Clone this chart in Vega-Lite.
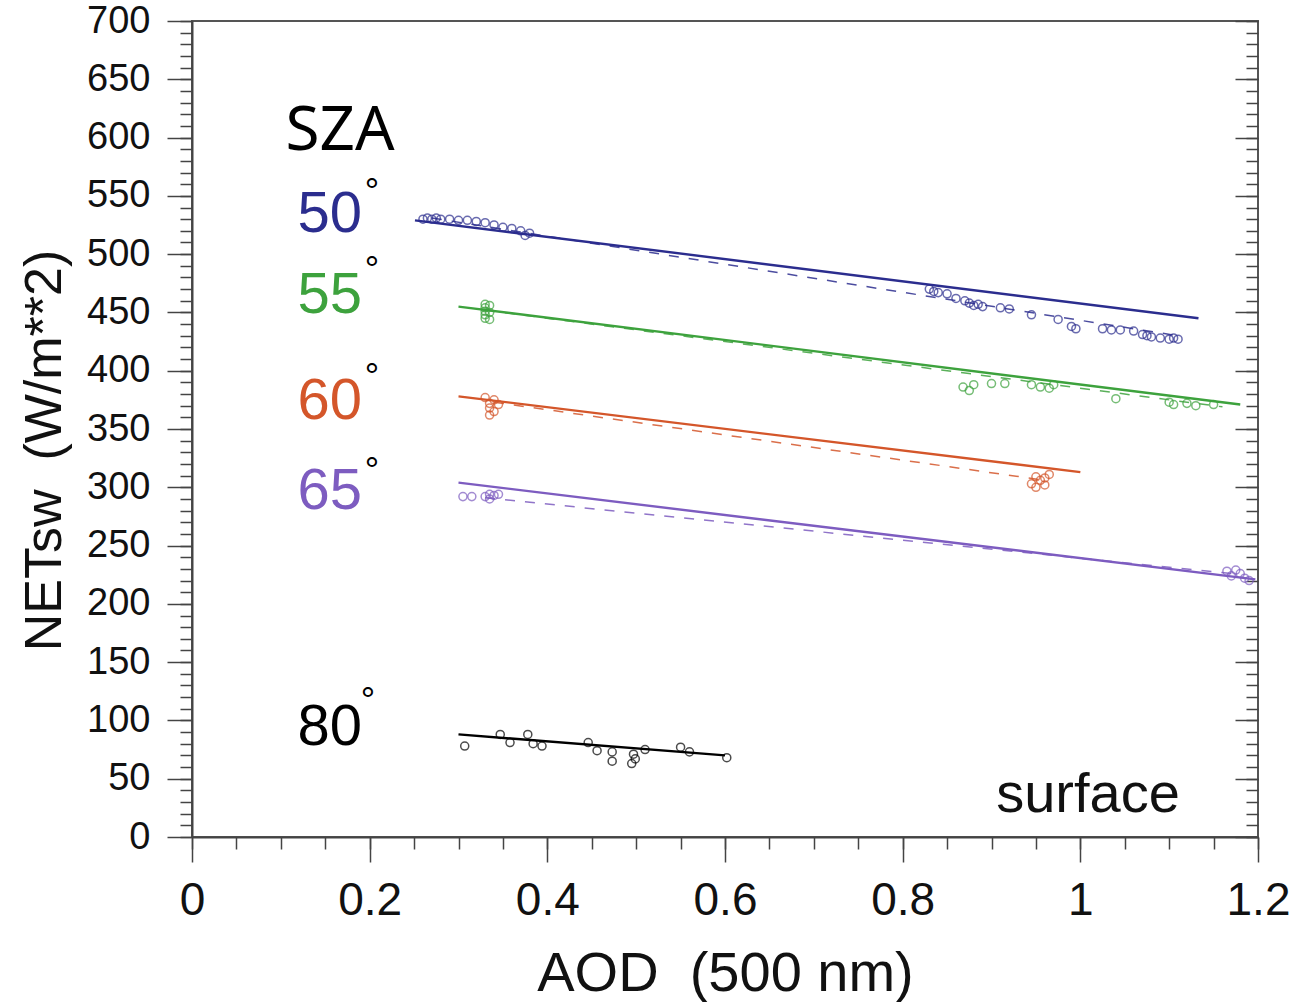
{
  "$schema": "https://vega.github.io/schema/vega-lite/v6.json",
  "width": 1066,
  "height": 816,
  "autosize": {"type": "none"},
  "padding": {"left": 192, "top": 21, "right": 37, "bottom": 165},
  "background": "white",
  "config": {
    "view": {"stroke": "#555555", "strokeWidth": 2},
    "axis": {
      "domainColor": "#444444",
      "domainWidth": 2,
      "tickColor": "#444444",
      "tickWidth": 1.5,
      "labelColor": "#111111",
      "labelFont": "Liberation Sans",
      "titleFont": "Liberation Sans",
      "titleColor": "#111111",
      "titleFontWeight": "normal",
      "grid": false
    }
  },
  "datasets": {
    "fit": [
      {"sza": "50", "x": 0.251, "y": 529}, {"sza": "50", "x": 1.133, "y": 445},
      {"sza": "55", "x": 0.30, "y": 455}, {"sza": "55", "x": 1.18, "y": 371},
      {"sza": "60", "x": 0.30, "y": 378}, {"sza": "60", "x": 1.00, "y": 313},
      {"sza": "65", "x": 0.30, "y": 304}, {"sza": "65", "x": 1.197, "y": 221},
      {"sza": "80", "x": 0.30, "y": 88}, {"sza": "80", "x": 0.60, "y": 70}
    ],
    "dash": [
      {"sza": "50", "x": 0.27, "y": 531}, {"sza": "50", "x": 1.11, "y": 430},
      {"sza": "55", "x": 0.33, "y": 452}, {"sza": "55", "x": 1.16, "y": 369},
      {"sza": "60", "x": 0.34, "y": 373}, {"sza": "60", "x": 0.96, "y": 306},
      {"sza": "65", "x": 0.33, "y": 291}, {"sza": "65", "x": 1.17, "y": 226}
    ],
    "pts": [
      {"sza": "50", "x": 0.26, "y": 530}, {"sza": "50", "x": 0.265, "y": 531}, {"sza": "50", "x": 0.27, "y": 530}, {"sza": "50", "x": 0.275, "y": 531},
      {"sza": "50", "x": 0.28, "y": 530}, {"sza": "50", "x": 0.29, "y": 530}, {"sza": "50", "x": 0.30, "y": 529}, {"sza": "50", "x": 0.31, "y": 529},
      {"sza": "50", "x": 0.32, "y": 528}, {"sza": "50", "x": 0.33, "y": 527}, {"sza": "50", "x": 0.34, "y": 525}, {"sza": "50", "x": 0.35, "y": 523},
      {"sza": "50", "x": 0.36, "y": 522}, {"sza": "50", "x": 0.37, "y": 520}, {"sza": "50", "x": 0.38, "y": 518}, {"sza": "50", "x": 0.375, "y": 516},
      {"sza": "50", "x": 0.83, "y": 470}, {"sza": "50", "x": 0.835, "y": 468}, {"sza": "50", "x": 0.84, "y": 467}, {"sza": "50", "x": 0.85, "y": 466},
      {"sza": "50", "x": 0.86, "y": 462}, {"sza": "50", "x": 0.87, "y": 460}, {"sza": "50", "x": 0.875, "y": 458}, {"sza": "50", "x": 0.88, "y": 456},
      {"sza": "50", "x": 0.885, "y": 457}, {"sza": "50", "x": 0.89, "y": 455}, {"sza": "50", "x": 0.91, "y": 454}, {"sza": "50", "x": 0.92, "y": 453},
      {"sza": "50", "x": 0.945, "y": 448}, {"sza": "50", "x": 0.975, "y": 444}, {"sza": "50", "x": 0.99, "y": 438}, {"sza": "50", "x": 0.995, "y": 436},
      {"sza": "50", "x": 1.025, "y": 436}, {"sza": "50", "x": 1.035, "y": 435}, {"sza": "50", "x": 1.045, "y": 435}, {"sza": "50", "x": 1.06, "y": 434},
      {"sza": "50", "x": 1.07, "y": 431}, {"sza": "50", "x": 1.075, "y": 430}, {"sza": "50", "x": 1.08, "y": 429}, {"sza": "50", "x": 1.09, "y": 428},
      {"sza": "50", "x": 1.10, "y": 427}, {"sza": "50", "x": 1.105, "y": 428}, {"sza": "50", "x": 1.11, "y": 427},
      {"sza": "55", "x": 0.33, "y": 457}, {"sza": "55", "x": 0.33, "y": 454}, {"sza": "55", "x": 0.33, "y": 451}, {"sza": "55", "x": 0.33, "y": 448},
      {"sza": "55", "x": 0.33, "y": 445}, {"sza": "55", "x": 0.335, "y": 456}, {"sza": "55", "x": 0.335, "y": 450}, {"sza": "55", "x": 0.335, "y": 444},
      {"sza": "55", "x": 0.868, "y": 386}, {"sza": "55", "x": 0.875, "y": 383}, {"sza": "55", "x": 0.88, "y": 388}, {"sza": "55", "x": 0.90, "y": 389},
      {"sza": "55", "x": 0.915, "y": 389}, {"sza": "55", "x": 0.945, "y": 388}, {"sza": "55", "x": 0.955, "y": 386}, {"sza": "55", "x": 0.965, "y": 385},
      {"sza": "55", "x": 0.97, "y": 388}, {"sza": "55", "x": 1.04, "y": 376}, {"sza": "55", "x": 1.10, "y": 373}, {"sza": "55", "x": 1.105, "y": 371},
      {"sza": "55", "x": 1.12, "y": 372}, {"sza": "55", "x": 1.13, "y": 370}, {"sza": "55", "x": 1.15, "y": 371},
      {"sza": "60", "x": 0.33, "y": 377}, {"sza": "60", "x": 0.335, "y": 372}, {"sza": "60", "x": 0.34, "y": 375}, {"sza": "60", "x": 0.335, "y": 368},
      {"sza": "60", "x": 0.34, "y": 365}, {"sza": "60", "x": 0.335, "y": 362}, {"sza": "60", "x": 0.345, "y": 371},
      {"sza": "60", "x": 0.945, "y": 303}, {"sza": "60", "x": 0.95, "y": 300}, {"sza": "60", "x": 0.955, "y": 306}, {"sza": "60", "x": 0.96, "y": 308},
      {"sza": "60", "x": 0.965, "y": 311}, {"sza": "60", "x": 0.95, "y": 309}, {"sza": "60", "x": 0.96, "y": 302},
      {"sza": "65", "x": 0.305, "y": 292}, {"sza": "65", "x": 0.315, "y": 292}, {"sza": "65", "x": 0.33, "y": 292}, {"sza": "65", "x": 0.335, "y": 294},
      {"sza": "65", "x": 0.34, "y": 293}, {"sza": "65", "x": 0.345, "y": 294}, {"sza": "65", "x": 0.335, "y": 290},
      {"sza": "65", "x": 1.165, "y": 228}, {"sza": "65", "x": 1.17, "y": 224}, {"sza": "65", "x": 1.175, "y": 229}, {"sza": "65", "x": 1.18, "y": 226},
      {"sza": "65", "x": 1.185, "y": 222}, {"sza": "65", "x": 1.19, "y": 220},
      {"sza": "80", "x": 0.307, "y": 78}, {"sza": "80", "x": 0.347, "y": 88}, {"sza": "80", "x": 0.358, "y": 81}, {"sza": "80", "x": 0.378, "y": 88},
      {"sza": "80", "x": 0.384, "y": 80}, {"sza": "80", "x": 0.394, "y": 78}, {"sza": "80", "x": 0.446, "y": 81}, {"sza": "80", "x": 0.456, "y": 74},
      {"sza": "80", "x": 0.473, "y": 73}, {"sza": "80", "x": 0.473, "y": 65}, {"sza": "80", "x": 0.497, "y": 71}, {"sza": "80", "x": 0.495, "y": 63},
      {"sza": "80", "x": 0.499, "y": 67}, {"sza": "80", "x": 0.51, "y": 75}, {"sza": "80", "x": 0.55, "y": 77}, {"sza": "80", "x": 0.56, "y": 73},
      {"sza": "80", "x": 0.602, "y": 68}
    ],
    "nums": [
      {"t": "50", "sza": "50", "x": 0.155, "y": 519},
      {"t": "55", "sza": "55", "x": 0.155, "y": 449.5},
      {"t": "60", "sza": "60", "x": 0.155, "y": 358.6},
      {"t": "65", "sza": "65", "x": 0.155, "y": 281.4},
      {"t": "80", "sza": "80", "x": 0.155, "y": 78.9}
    ],
    "degs": [
      {"t": "°", "x": 0.2026, "y": 543.4},
      {"t": "°", "x": 0.2026, "y": 475.7},
      {"t": "°", "x": 0.2026, "y": 384.7},
      {"t": "°", "x": 0.2026, "y": 304.1},
      {"t": "°", "x": 0.198, "y": 106.8}
    ],
    "sza": [{"t": "SZA", "x": 0.1666, "y": 589.3}],
    "surf": [{"t": "surface", "x": 1.0086, "y": 21.4}]
  },
  "resolve": {"scale": {"x": "shared", "y": "shared"}, "axis": {"x": "independent", "y": "independent"}},
  "layer": [
    {
      "data": {"name": "fit"},
      "mark": {"type": "line", "strokeWidth": 2.4},
      "encoding": {
        "x": {"field": "x", "type": "quantitative", "scale": {"domain": [0, 1.2], "nice": false, "zero": false},
          "axis": {"orient": "bottom", "values": [0, 0.2, 0.4, 0.6, 0.8, 1, 1.2], "tickSize": 25, "labelPadding": 16, "labelFontSize": 46,
            "labelExpr": "'' + datum.value", "title": "AOD\u00a0\u00a0(500 nm)", "titleFontSize": 56, "titleY": 153, "titleBaseline": "alphabetic", "labelFlush": false}},
        "y": {"field": "y", "type": "quantitative", "scale": {"domain": [0, 700], "nice": false, "zero": false},
          "axis": {"orient": "left", "values": [0, 50, 100, 150, 200, 250, 300, 350, 400, 450, 500, 550, 600, 650, 700], "tickSize": 25, "labelPadding": 17,
            "labelFontSize": 38, "title": "NETsw\u00a0\u00a0(W/m**2)", "titleFontSize": 52, "titleX": -132, "titleY": 429, "titleBaseline": "alphabetic", "titleAngle": -90, "labelFlush": false}},
        "color": {"field": "sza", "type": "nominal", "legend": null,
          "scale": {"domain": ["50", "55", "60", "65", "80"], "range": ["#2b2d8e", "#3da23d", "#d4562a", "#7d5cc0", "#000000"]}},
        "detail": {"field": "sza"}
      }
    },
    {
      "data": {"name": "dash"},
      "mark": {"type": "line", "strokeWidth": 1.5, "strokeDash": [10, 10], "opacity": 0.85},
      "encoding": {
        "x": {"field": "x", "type": "quantitative",
          "axis": {"orient": "bottom", "values": [0, 0.05, 0.1, 0.15, 0.2, 0.25, 0.3, 0.35, 0.4, 0.45, 0.5, 0.55, 0.6, 0.65, 0.7, 0.75, 0.8, 0.85, 0.9, 0.95, 1, 1.05, 1.1, 1.15, 1.2],
            "tickSize": 12, "labels": false, "domain": false, "title": null}},
        "y": {"field": "y", "type": "quantitative",
          "axis": {"orient": "left", "values": [0,10,20,30,40,50,60,70,80,90,100,110,120,130,140,150,160,170,180,190,200,210,220,230,240,250,260,270,280,290,300,310,320,330,340,350,360,370,380,390,400,410,420,430,440,450,460,470,480,490,500,510,520,530,540,550,560,570,580,590,600,610,620,630,640,650,660,670,680,690,700],
            "tickSize": 12, "labels": false, "domain": false, "title": null}},
        "color": {"field": "sza", "type": "nominal", "legend": null},
        "detail": {"field": "sza"}
      }
    },
    {
      "data": {"name": "pts"},
      "mark": {"type": "point", "shape": "circle", "filled": false, "size": 65, "strokeWidth": 1.5},
      "encoding": {
        "x": {"field": "x", "type": "quantitative", "axis": null},
        "y": {"field": "y", "type": "quantitative",
          "axis": {"orient": "right", "values": [0,10,20,30,40,50,60,70,80,90,100,110,120,130,140,150,160,170,180,190,200,210,220,230,240,250,260,270,280,290,300,310,320,330,340,350,360,370,380,390,400,410,420,430,440,450,460,470,480,490,500,510,520,530,540,550,560,570,580,590,600,610,620,630,640,650,660,670,680,690,700],
            "tickSize": -12, "labels": false, "domain": false, "title": null}},
        "color": {"field": "sza", "type": "nominal", "legend": null}
      }
    },
    {
      "data": {"name": "nums"},
      "mark": {"type": "text", "font": "Liberation Sans", "fontSize": 58, "align": "center", "baseline": "alphabetic"},
      "encoding": {
        "x": {"field": "x", "type": "quantitative", "axis": null},
        "y": {"field": "y", "type": "quantitative",
          "axis": {"orient": "right", "values": [0, 50, 100, 150, 200, 250, 300, 350, 400, 450, 500, 550, 600, 650, 700],
            "tickSize": -23, "labels": false, "domain": false, "title": null}},
        "text": {"field": "t"},
        "color": {"field": "sza", "type": "nominal", "legend": null}
      }
    },
    {
      "data": {"name": "degs"},
      "mark": {"type": "text", "font": "Liberation Sans", "fontSize": 36, "align": "center", "baseline": "alphabetic", "color": "#000000"},
      "encoding": {
        "x": {"field": "x", "type": "quantitative", "axis": null},
        "y": {"field": "y", "type": "quantitative", "axis": null},
        "text": {"field": "t"}
      }
    },
    {
      "data": {"name": "sza"},
      "mark": {"type": "text", "font": "Noto Sans", "fontSize": 62, "align": "center", "baseline": "alphabetic", "color": "#000000"},
      "encoding": {
        "x": {"field": "x", "type": "quantitative", "axis": null},
        "y": {"field": "y", "type": "quantitative", "axis": null},
        "text": {"field": "t"}
      }
    },
    {
      "data": {"name": "surf"},
      "mark": {"type": "text", "font": "Liberation Sans", "fontSize": 56, "align": "center", "baseline": "alphabetic", "color": "#111111"},
      "encoding": {
        "x": {"field": "x", "type": "quantitative", "axis": null},
        "y": {"field": "y", "type": "quantitative", "axis": null},
        "text": {"field": "t"}
      }
    }
  ]
}
